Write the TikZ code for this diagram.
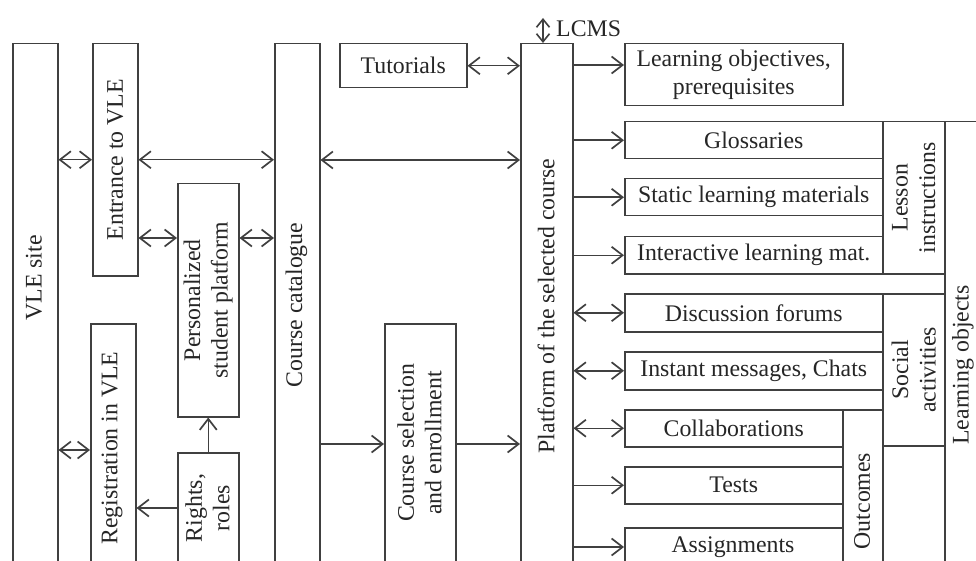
\documentclass[tikz,border=0pt]{standalone}
\usepackage{fontspec}
\setmainfont{Liberation Serif}
\usetikzlibrary{arrows.meta}
\begin{document}
\begin{tikzpicture}[x=1pt,y=-1pt,
  box/.style={draw=black!75, line width=1.5pt, rectangle, inner sep=0pt, anchor=north west,
    text=black!85, font=\fontsize{23.8}{27.5}\selectfont, align=center},
  lbl/.style={text=black!85, font=\fontsize{23.8}{27.5}\selectfont, align=center, inner sep=0pt},
  vlbl/.style={lbl, rotate=90},
  conn/.style={draw=black!75, line width=1.5pt},
  >={Straight Barb[length=11pt,width=17pt,line width=1.7pt]}
]
\useasboundingbox (0,0) rectangle (976,561);
\clip (0,0) rectangle (976,561);
\fill[white] (0,0) rectangle (976,561);

% left column boxes
\node[box, minimum width=45, minimum height=600] (vle) at (12,43) {};
\node[box, minimum width=45, minimum height=232] (ent) at (92,43) {};
\node[box, minimum width=45, minimum height=300] (reg) at (90,323) {};
\node[box, minimum width=61, minimum height=233] (pers) at (177,183) {};
\node[box, minimum width=61, minimum height=200] (rights) at (177,452) {};
\node[box, minimum width=45, minimum height=600] (cat) at (274,43) {};
\node[box, minimum width=127, minimum height=44] (tut) at (339,43) {Tutorials};
\node[box, minimum width=71, minimum height=300] (sel) at (384,323) {};
\node[box, minimum width=52, minimum height=600] (plat) at (520,43) {};

% right column boxes
\node[box, minimum width=218, minimum height=62] (lo) at (624,43) {Learning objectives,\\prerequisites};
\node[box, minimum width=258, minimum height=37] (glos) at (624,121) {Glossaries};
\node[box, minimum width=258, minimum height=37] (stat) at (624,178) {Static learning materials};
\node[box, minimum width=258, minimum height=37] (inter) at (624,236) {Interactive learning mat.};
\node[box, minimum width=258, minimum height=38] (disc) at (624,293) {Discussion forums};
\node[box, minimum width=258, minimum height=38] (inst) at (624,351) {Instant messages, Chats};
\node[box, minimum width=218, minimum height=37] (coll) at (624,409) {Collaborations};
\node[box, minimum width=218, minimum height=37] (tests) at (624,466) {Tests};
\node[box, minimum width=218, minimum height=100] (assign) at (624,527) {};
\node[box, minimum width=62, minimum height=152] (lesson) at (882,121) {};
\node[box, minimum width=62, minimum height=152] (social) at (882,293) {};
\node[box, minimum width=40, minimum height=200] (outc) at (842,409) {};
\node[box, minimum width=60, minimum height=500] (lobj) at (944,121) {};

% texts
\node[vlbl] (vleT) at (34,278) {VLE site};
\node[vlbl] (entT) at (ent.center) {Entrance to VLE};
\node[vlbl] (regT) at (112,448) {Registration in VLE};
\node[vlbl] (persT) at (pers.center) {Personalized\\student platform};
\node[vlbl] (rightsT) at (207.5,508) {Rights,\\roles};
\node[vlbl] (catT) at (296.5,305) {Course catalogue};
\node[vlbl] (selT) at (419.5,443) {Course selection\\and enrollment};
\node[vlbl] (platT) at (546,306) {Platform of the selected course};
\node[lbl] (assignT) at (733,547) {Assignments};
\node[vlbl] (lessonT) at (lesson.center) {Lesson\\instructions};
\node[vlbl] (socialT) at (social.center) {Social\\activities};
\node[vlbl] (outcT) at (862,501) {Outcomes};
\node[vlbl] (lobjT) at (963,365) {Learning objects};

% LCMS
\coordinate (lcmsTop) at (543,18);
\draw[conn,{Straight Barb[length=8pt,width=13pt,line width=1.6pt]}-{Straight Barb[length=8pt,width=13pt,line width=1.6pt]}] (lcmsTop) -- (lcmsTop |- plat.north);
\node[lbl, anchor=west] (lcms) at (556,28.5) {LCMS};

% left connectors
\draw[conn,<->] (vle.east |- ent.west) -- (ent.west);
\draw[conn,<->] (vle.east |- 0,450) -- (reg.west |- 0,450);
\draw[conn,<->] (ent.east) -- (cat.west |- ent.east);
\draw[conn,<->] (ent.east |- 0,238) -- (pers.west |- 0,238);
\draw[conn,<->] (pers.east |- 0,238) -- (cat.west |- 0,238);
\draw[conn,->] (rights.north) -- (pers.south);
\draw[conn,->] (rights.west |- 0,508) -- (reg.east |- 0,508);
\draw[conn,<->] (cat.east |- 0,160) -- (plat.west |- 0,160);
\draw[conn,<->] (tut.east) -- (plat.west |- tut.east);
\draw[conn,->] (cat.east |- 0,444) -- (sel.west |- 0,444);
\draw[conn,->] (sel.east |- 0,444) -- (plat.west |- 0,444);

% right connectors
\draw[conn,->] (plat.east |- 0,65) -- (lo.west |- 0,65);
\draw[conn,->] (plat.east |- glos.west) -- (glos.west);
\draw[conn,->] (plat.east |- stat.west) -- (stat.west);
\draw[conn,->] (plat.east |- inter.west) -- (inter.west);
\draw[conn,<->] (plat.east |- disc.west) -- (disc.west);
\draw[conn,<->] (plat.east |- inst.west) -- (inst.west);
\draw[conn,<->] (plat.east |- coll.west) -- (coll.west);
\draw[conn,->] (plat.east |- tests.west) -- (tests.west);
\draw[conn,->] (plat.east |- 0,547) -- (assign.west |- 0,547);
\end{tikzpicture}
\end{document}
